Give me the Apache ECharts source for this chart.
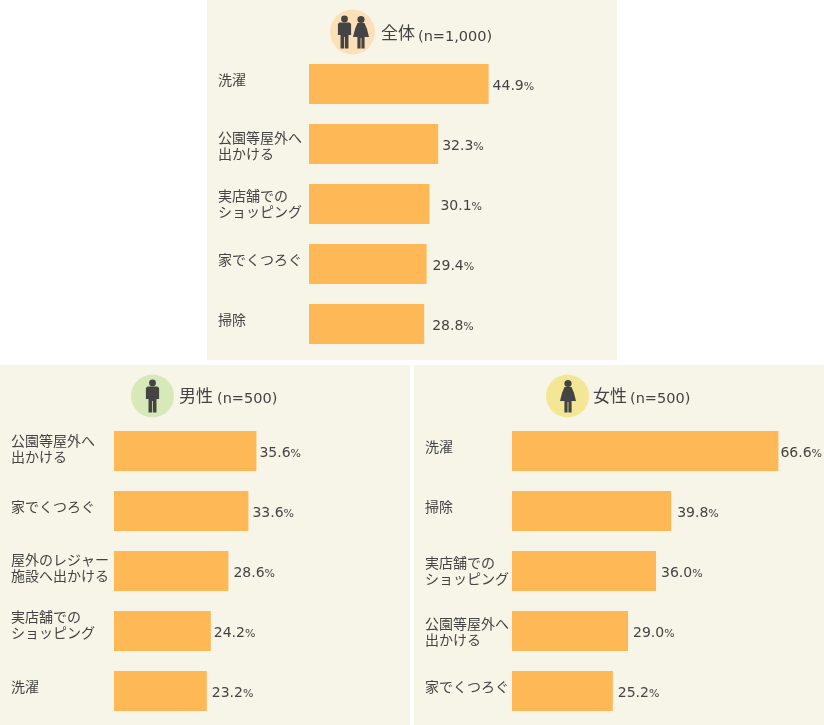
<!DOCTYPE html>
<html><head><meta charset="utf-8">
<style>html,body{margin:0;padding:0;background:#fff}#c{width:824px;height:725px}</style>
<script src="https://cdn.jsdelivr.net/npm/echarts@6/dist/echarts.min.js"></script>
</head><body><div id="c"></div>
<script>
const allCats = ['洗濯','公園等屋外へ\n出かける','実店舗での\nショッピング','家でくつろぐ','掃除'];
const allVals = [44.9,32.3,30.1,29.4,28.8];
const menCats = ['公園等屋外へ\n出かける','家でくつろぐ','屋外のレジャー\n施設へ出かける','実店舗での\nショッピング','洗濯'];
const menVals = [35.6,33.6,28.6,24.2,23.2];
const womenCats = ['洗濯','掃除','実店舗での\nショッピング','公園等屋外へ\n出かける','家でくつろぐ'];
const womenVals = [66.6,39.8,36.0,29.0,25.2];

// label placement, read separately from the values
const allGaps = [4,4,11,6,8];
const menGaps = [3,4,5,3,5];
const womenGaps = [2,6,5,5,5];
const allDrops = [16,14,12,16,16];
const menDrops = [10,16,9,6,16];
const womenDrops = [16,16,12,13,16];

const CJK = '"Noto Sans CJK JP","DejaVu Sans",sans-serif';
const LATIN = '"DejaVu Sans",sans-serif';
const INK = '#444444', PANEL = '#f7f5e8', BAR = '#ffb856';

const panels = [
  {x:207,y:0,  name:'全体',n:'(n=1,000)',cats:allCats,vals:allVals,gaps:allGaps,drops:allDrops,gridLeft:309,gridTop:54,margin:91,titleX:381,titleY:24,nX:418,nY:30},
  {x:0,  y:365,name:'男性',n:'(n=500)',cats:menCats,vals:menVals,gaps:menGaps,drops:menDrops,gridLeft:114,gridTop:421,margin:103,titleX:179,titleY:387,nX:217,nY:392},
  {x:414,y:365,name:'女性',n:'(n=500)',cats:womenCats,vals:womenVals,gaps:womenGaps,drops:womenDrops,gridLeft:512,gridTop:421,margin:87,titleX:593,titleY:387,nX:630,nY:392}
];

function poly(cx, cy, pts){
  return {type:'polygon',z:3,silent:true,shape:{points:pts.map(q=>[cx+q[0],cy+q[1]])},style:{fill:INK}};
}
function man(cx, cy){
  return [
    {type:'circle',z:3,silent:true,shape:{cx:cx,cy:cy-13,r:3.4},style:{fill:INK}},
    poly(cx,cy,[[-5,-9.5],[5,-9.5],[6.6,-8],[6.6,3],[4,3],[4,16.5],[0.4,16.5],[0.4,5],[-0.4,5],[-0.4,16.5],[-4,16.5],[-4,3],[-6.6,3],[-6.6,-8]])
  ];
}
function woman(cx, cy){
  return [
    {type:'circle',z:3,silent:true,shape:{cx:cx,cy:cy-12.5,r:3.6},style:{fill:INK}},
    poly(cx,cy,[[-3.5,-9],[3.5,-9],[6,-3],[8,5],[3.6,5],[3.6,16.5],[0.4,16.5],[0.4,6],[-0.4,6],[-0.4,16.5],[-3.6,16.5],[-3.6,5],[-8,5],[-6,-3]])
  ];
}

const graphic = [];
panels.forEach(p=>graphic.push({type:'rect',z:0,silent:true,shape:{x:p.x,y:p.y,width:410,height:360},style:{fill:PANEL}}));
graphic.push({type:'circle',z:2,silent:true,shape:{cx:352.5,cy:32,r:22.5},style:{fill:'#fee0b8'}});
graphic.push(...man(344.5,32),...woman(361,32));
graphic.push({type:'circle',z:2,silent:true,shape:{cx:152.5,cy:396,r:21.5},style:{fill:'#d8e9b9'}});
graphic.push(...man(152.5,396));
graphic.push({type:'circle',z:2,silent:true,shape:{cx:567.5,cy:396,r:21.5},style:{fill:'#f3e796'}});
graphic.push(...woman(568,396));

const titles = [];
panels.forEach(p=>{
  titles.push({left:p.titleX,top:p.titleY,padding:0,text:p.name,
    textStyle:{fontFamily:CJK,fontSize:17,fontWeight:'normal',color:INK}});
  titles.push({left:p.nX,top:p.nY,padding:0,text:p.n,
    textStyle:{fontFamily:LATIN,fontSize:14.5,fontWeight:'normal',color:INK}});
});

const option = {
  animation:false,
  backgroundColor:'#ffffff',
  graphic:graphic,
  title:titles,
  grid:panels.map(p=>({left:p.gridLeft,top:p.gridTop,width:280,height:300,containLabel:false,outerBoundsMode:'none'})),
  xAxis:panels.map((p,i)=>({type:'value',gridIndex:i,min:0,max:70,show:false})),
  yAxis:panels.map((p,i)=>({
    type:'category',gridIndex:i,inverse:true,
    data:p.cats.map((c,j)=>({value:c,textStyle:{
      align:'left',verticalAlign:'top',padding:[p.drops[j]-28,0,0,0],
      fontFamily:CJK,fontSize:14,lineHeight:16,color:INK}})),
    axisLine:{show:false},axisTick:{show:false},splitLine:{show:false},
    axisLabel:{margin:p.margin,align:'left',verticalAlign:'top',
      fontFamily:CJK,fontSize:14,lineHeight:16,color:INK,interval:0}
  })),
  series:panels.map((p,i)=>({
    type:'bar',xAxisIndex:i,yAxisIndex:i,barWidth:40,
    itemStyle:{color:BAR},
    data:p.vals.map((v,j)=>({value:v,label:{distance:p.gaps[j]}})),
    label:{show:true,position:'right',offset:[0,1],
      formatter:o=>`{n|${o.value.toFixed(1)}}{u|%}`,
      rich:{
        n:{fontFamily:LATIN,fontSize:14,color:INK,verticalAlign:'bottom',lineHeight:16},
        u:{fontFamily:LATIN,fontSize:11,color:INK,verticalAlign:'bottom',lineHeight:15}
      }}
  }))
};
const chart = echarts.init(document.getElementById('c'),null,{renderer:'canvas'});
chart.setOption(option);
</script></body></html>
